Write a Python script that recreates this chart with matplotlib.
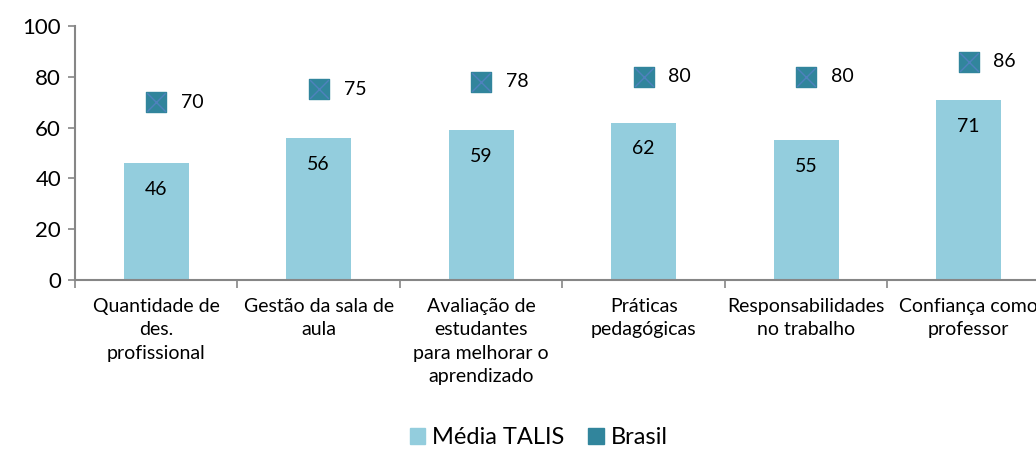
import matplotlib
matplotlib.use("Agg")
import matplotlib.pyplot as plt
from matplotlib.lines import Line2D
from matplotlib.patches import Patch

plt.rcParams['font.family'] = ['Lato', 'DejaVu Sans']

categories = ["Quantidade de\ndes.\nprofissional", "Gestão da sala de\naula",
              "Avaliação de\nestudantes\npara melhorar o\naprendizado",
              "Práticas\npedagógicas", "Responsabilidades\nno trabalho",
              "Confiança como\nprofessor"]
talis = [46, 56, 59, 62, 55, 71]
brasil = [70, 75, 78, 80, 80, 86]
yticks = [0, 20, 40, 60, 80, 100]

bar_color = "#93CDDD"
mark_color = "#31859C"
x_color = "#4F81BD"
axis_color = "#868686"

fig = plt.figure(figsize=(10.36, 4.49), dpi=100)
ax = fig.add_axes([0.0724, 0.3764, 0.941, 0.5657])
x = list(range(len(categories)))
ax.bar(x, talis, width=0.4, color=bar_color, zorder=2)
ax.scatter(x, brasil, marker='s', s=14.5**2, color=mark_color, zorder=3)
ax.scatter(x, brasil, marker='x', s=13.5**2, color=x_color, linewidths=1.0, zorder=4)

for xi, v in zip(x, talis):
    ax.annotate(str(v), (xi, v), xytext=(0, -19), textcoords='offset points',
                ha='center', va='center', fontsize=14, color='black')
for xi, v in zip(x, brasil):
    ax.annotate(str(v), (xi, v), xytext=(26, 0), textcoords='offset points',
                ha='center', va='center', fontsize=14, color='black')

ax.set_xlim(-0.5, len(categories) - 0.5)
ax.set_ylim(0, 100)
ax.set_yticks(yticks)
ax.tick_params(axis='y', labelsize=16, length=5, color=axis_color, width=1.2, pad=5)
ax.set_xticks(x)
ax.set_xticklabels(categories, fontsize=14, linespacing=1.45)
ax.tick_params(axis='x', which='major', length=0, pad=13)
ax.set_xticks([i - 0.5 for i in range(len(categories) + 1)], minor=True)
ax.tick_params(axis='x', which='minor', length=6, color=axis_color, width=1.2)
for s in ['top', 'right']:
    ax.spines[s].set_visible(False)
for s in ['left', 'bottom']:
    ax.spines[s].set_color(axis_color)
    ax.spines[s].set_linewidth(1.5)

handles = [Patch(color=bar_color, label="Média TALIS"),
           Line2D([], [], marker='s', markersize=12, color=mark_color, linestyle='none', label="Brasil")]
fig.legend(handles=handles, loc='center', bbox_to_anchor=(0.52, 0.025), ncol=2, frameon=False,
           fontsize=17, handlelength=0.65, handleheight=0.65, handletextpad=0.3, columnspacing=1.0)

fig.savefig("out.png", dpi=100)
